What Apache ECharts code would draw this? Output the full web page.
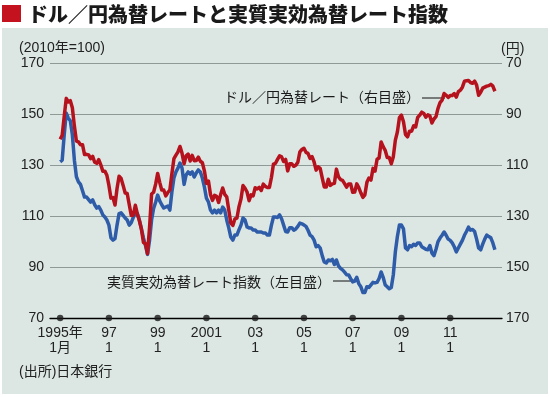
<!DOCTYPE html>
<html>
<head>
<meta charset="utf-8">
<script src="https://cdn.jsdelivr.net/npm/echarts@6/dist/echarts.min.js"></script>
<style>
html,body{margin:0;padding:0;background:#fff;}
#c{width:550px;height:397px;}
</style>
</head>
<body>
<div id="c"></div>
<script>
// Monthly data, Jan 1995 (index 0) to Nov 2012
var startYear = 1995;
// Dollar/Yen rate (yen per dollar), right axis (inverted)
var usdJpy = [
99.8,98.2,90.8,83.7,85.1,84.6,87.4,94.6,100.5,100.8,101.9,101.9,
105.8,105.7,105.9,107.4,106.5,108.8,109.2,107.8,109.8,112.3,112.3,113.9,
117.9,122.9,122.7,125.6,119.1,114.3,115.2,117.9,120.9,121.1,125.4,129.7,
129.6,125.7,129.1,131.8,135.1,140.3,140.8,144.7,134.5,121.3,120.6,117.4,
113.2,116.7,119.7,119.7,122.0,120.7,119.7,113.3,107.4,106.0,104.7,102.6,
105.3,109.4,106.3,105.6,108.3,106.1,108.2,108.1,106.8,108.4,109.0,112.2,
117.1,116.2,121.5,123.8,121.8,122.2,124.6,121.5,118.9,121.4,122.4,127.6,
132.7,133.6,131.1,130.8,126.4,123.3,117.9,119.0,120.5,123.9,121.6,122.0,
118.8,119.3,118.7,119.9,117.4,118.3,118.7,118.7,114.8,109.5,109.2,107.7,
106.3,106.7,108.5,107.7,112.2,109.4,109.4,110.4,110.0,108.8,104.7,103.8,
103.3,104.9,105.3,107.3,106.6,108.7,111.9,110.6,111.2,114.9,118.5,118.5,
115.5,117.9,117.3,117.1,111.5,114.5,115.6,115.9,117.2,118.6,117.3,117.3,
120.6,120.5,117.3,118.8,120.8,122.6,121.6,116.7,115.0,115.8,111.2,112.3,
107.6,107.1,100.8,102.7,104.1,106.9,106.9,109.4,106.6,100.1,96.9,91.3,
90.3,92.9,97.9,98.8,96.6,96.6,94.5,94.9,91.2,90.3,89.1,89.6,
91.1,90.2,90.6,93.4,91.8,90.9,87.6,85.4,84.4,81.8,82.5,83.3,
82.6,82.6,81.8,83.2,81.1,80.5,79.3,77.0,76.8,76.7,77.5,77.8,
76.9,78.5,82.5,81.3,79.7,79.3,78.9,78.7,78.2,78.9,80.9
];
// Real effective exchange rate index (2010=100), left axis
var reer = [
131.4,132.0,142.0,150.5,148.5,147.5,142.0,132.0,125.5,123.5,122.5,120.0,
117.5,117.5,116.5,115.5,116.4,114.5,113.2,113.8,112.4,110.5,109.7,108.5,
106.5,101.5,100.6,101.2,106.5,111.0,111.3,110.3,109.3,108.5,106.5,107.5,
109.5,111.3,111.0,108.5,105.0,101.5,98.5,95.0,100.5,108.5,113.0,115.5,
118.3,116.0,114.5,113.2,113.6,114.0,112.4,119.5,125.0,127.4,128.9,130.9,
128.9,122.5,126.2,127.4,126.5,127.4,125.4,127.0,128.2,127.4,125.0,121.5,
117.1,115.6,112.4,111.3,112.4,111.3,112.4,111.3,113.6,112.4,108.5,105.4,
101.8,100.6,102.6,102.6,104.6,106.5,109.3,108.5,105.8,105.4,105.4,104.6,
104.6,103.8,103.8,103.8,103.4,103.4,102.6,102.6,106.5,109.7,109.7,109.5,
110.5,109.0,106.5,104.0,103.8,105.5,105.5,104.5,105.0,106.0,107.3,107.0,
106.5,106.0,104.5,102.6,102.0,100.6,98.0,98.5,97.5,94.5,92.0,91.6,
92.8,92.5,93.0,91.0,92.8,90.5,89.5,88.9,88.0,87.0,86.9,85.5,
84.2,84.5,86.0,83.5,82.3,80.0,80.0,82.3,82.0,83.0,84.0,83.8,
84.0,85.5,88.1,86.0,83.0,82.3,81.5,82.0,87.0,96.0,102.0,106.5,
106.5,105.0,97.5,96.8,98.5,98.0,99.0,98.5,99.5,99.5,98.0,97.5,
97.0,96.8,98.5,95.5,94.5,97.0,100.0,101.4,102.5,103.8,102.5,101.0,
100.5,99.5,98.0,96.0,97.5,99.0,100.5,102.5,104.0,105.7,104.5,104.8,
104.0,101.0,97.5,96.8,99.0,101.0,102.6,102.0,101.5,99.5,96.8
];
// x-axis ticks (month index from Jan 1995) and labels
var xTickValues = [0,24,48,72,96,120,144,168,192];
var xTickLabels = ['1995年\n1月','97\n1','99\n1','2001\n1','03\n1','05\n1','07\n1','09\n1','11\n1'];

var FONT = "'Liberation Sans','Noto Sans CJK JP',sans-serif";
var chart = echarts.init(document.getElementById('c'), null, {renderer:'canvas'});

var redData = usdJpy.map(function(v,i){return [i,v];});
var blueData = reer.map(function(v,i){return [i,v];});
var dotData = xTickValues.map(function(v){return [v,70];});

var option = {
  animation:false,
  backgroundColor:'#ffffff',
  textStyle:{fontFamily:FONT},
  grid:{left:50,right:48,top:63.5,height:254.5,containLabel:false},
  xAxis:{
    type:'value',min:-5,max:217.5,
    axisLine:{show:true,onZero:false,lineStyle:{color:'#000',width:1.3}},
    axisTick:{show:false},
    splitLine:{show:false},
    z:4,
    axisLabel:{
      customValues:xTickValues,
      formatter:function(v){var k=xTickValues.indexOf(v);return k>=0?xTickLabels[k]:'';},
      color:'#222',fontSize:14,lineHeight:15,margin:8,fontFamily:FONT
    }
  },
  yAxis:[{
    type:'value',min:70,max:170,interval:20,position:'left',
    axisLine:{show:false},axisTick:{show:false},
    axisLabel:{color:'#222',fontSize:14,margin:6,fontFamily:FONT},
    splitLine:{show:true,showMinLine:false,lineStyle:{color:'#8e9a97',width:1}}
  },{
    type:'value',min:70,max:170,interval:20,position:'right',inverse:true,
    axisLine:{show:false},axisTick:{show:false},
    axisLabel:{color:'#222',fontSize:14,margin:4,fontFamily:FONT},
    splitLine:{show:false}
  }],
  series:[{
    type:'line',name:'実質実効為替レート指数',data:blueData,yAxisIndex:0,
    showSymbol:false,symbol:'none',
    lineStyle:{color:'#2f5ca8',width:3.5,join:'round'},z:3
  },{
    type:'line',name:'ドル／円為替レート',data:redData,yAxisIndex:1,
    showSymbol:false,symbol:'none',
    lineStyle:{color:'#b5121d',width:3.5,join:'round'},z:4
  },{
    type:'scatter',data:dotData,yAxisIndex:0,symbol:'circle',symbolSize:6.5,
    itemStyle:{color:'#1a1a1a'},z:6,silent:true,clip:false
  }],
  graphic:[
    {type:'rect',shape:{x:2,y:28,width:546,height:366},style:{fill:'#dce7e3'},z:-10,silent:true},
    {type:'rect',shape:{x:2,y:5,width:19,height:17},style:{fill:'#c4131e'},silent:true},
    {type:'text',x:28,y:14,style:{text:'ドル／円為替レートと実質実効為替レート指数',font:"900 20px 'Noto Sans CJK JP',sans-serif",fill:'#1a1a1a',textVerticalAlign:'middle'}},
    {type:'text',x:19,y:48,style:{text:'(2010年=100)',font:"14px "+FONT,fill:'#222',textVerticalAlign:'middle'}},
    {type:'text',x:501,y:49,style:{text:'(円)',font:"14px "+FONT,fill:'#222',textVerticalAlign:'middle'}},
    {type:'text',x:420,y:98,style:{text:'ドル／円為替レート（右目盛）',font:"14px "+FONT,fill:'#1a1a1a',textAlign:'right',textVerticalAlign:'middle'}},
    {type:'line',shape:{x1:422,y1:98,x2:445,y2:98},style:{stroke:'#111',lineWidth:1}},
    {type:'text',x:331,y:283,style:{text:'実質実効為替レート指数（左目盛）',font:"14px "+FONT,fill:'#1a1a1a',textAlign:'right',textVerticalAlign:'middle'}},
    {type:'line',shape:{x1:333,y1:281,x2:353,y2:281},style:{stroke:'#111',lineWidth:1}},
    {type:'text',x:19,y:372,style:{text:'(出所)日本銀行',font:"14px "+FONT,fill:'#222',textVerticalAlign:'middle'}}
  ]
};
chart.setOption(option);
</script>
</body>
</html>
